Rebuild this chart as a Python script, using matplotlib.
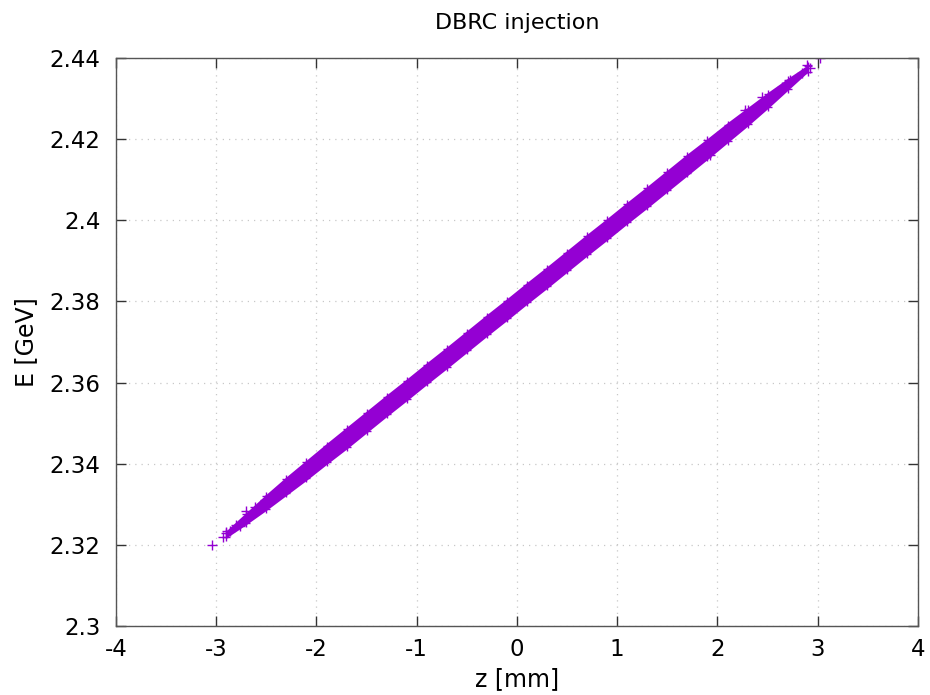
import numpy as np
import matplotlib
matplotlib.use('Agg')
import matplotlib.pyplot as plt

# band of the E(z) distribution
z_band = [-2.9, -2.7, -2.5, -2.3, -2.1, -1.9, -1.7, -1.5, -1.3, -1.1, -0.9, -0.7, -0.5, -0.3, -0.1,
          0.1, 0.3, 0.5, 0.7, 0.9, 1.1, 1.3, 1.5, 1.7, 1.9, 2.1, 2.3, 2.5, 2.7, 2.9]
E_mid = [2.3226, 2.3265, 2.3305, 2.3345, 2.3384, 2.3424, 2.3463, 2.3503, 2.3543, 2.3582,
         2.3622, 2.3661, 2.3701, 2.3741, 2.3780, 2.3820, 2.3859, 2.3899, 2.3939, 2.3978,
         2.4018, 2.4057, 2.4097, 2.4137, 2.4176, 2.4216, 2.4255, 2.4295, 2.4335, 2.4374]
E_halfwidth = [0.0009, 0.0015, 0.0020, 0.0023, 0.0025, 0.0026, 0.0027, 0.0027, 0.0027, 0.0027,
               0.0027, 0.0027, 0.0027, 0.0027, 0.0027, 0.0027, 0.0027, 0.0027, 0.0027, 0.0027,
               0.0027, 0.0027, 0.0027, 0.0027, 0.0026, 0.0025, 0.0023, 0.0020, 0.0015, 0.0009]

# isolated particles at the tails
z_tail = [-3.04, -2.935, -2.90, -2.86, -2.80, -2.76, -2.70, -2.61, -2.51, -2.45,
          3.02, 2.89, 2.92, 2.84, 2.72, 2.64, 2.44, 2.47, 2.27, 1.93]
E_tail = [2.3200, 2.3219, 2.3229, 2.3235, 2.3249, 2.3246, 2.3284, 2.3294, 2.3311, 2.3315,
          2.4400, 2.4383, 2.4375, 2.4362, 2.4346, 2.4329, 2.4305, 2.4293, 2.4272, 2.4161]

xticks = [-4, -3, -2, -1, 0, 1, 2, 3, 4]
yticks = [2.3, 2.32, 2.34, 2.36, 2.38, 2.4, 2.42, 2.44]
ytick_labels = ['2.3', '2.32', '2.34', '2.36', '2.38', '2.4', '2.42', '2.44']

col = '#9400d3'
zb = np.array(z_band)
mid = np.array(E_mid)
hw = np.array(E_halfwidth)

fig = plt.figure(figsize=(9.3, 6.95), dpi=100)
ax = fig.add_axes([0.1247, 0.0993, 0.8624, 0.8172])

ax.fill_between(zb, mid - hw, mid + hw, color=col, lw=0)
ax.plot(zb, mid + 0.8 * hw, '+', color=col, ms=6, mew=1)
ax.plot(zb, mid - 0.8 * hw, '+', color=col, ms=6, mew=1)
ax.plot(z_tail, E_tail, '+', color=col, ms=7, mew=1)

ax.set_xlim(-4, 4)
ax.set_ylim(2.3, 2.44)
ax.set_xticks(xticks)
ax.set_xticklabels([str(t) for t in xticks])
ax.set_yticks(yticks)
ax.set_yticklabels(ytick_labels)
ax.grid(True, color='#c8c8c8', linestyle=(0, (1, 4)), linewidth=0.9)
ax.set_axisbelow(True)

ax.tick_params(direction='in', length=7, width=1, top=True, right=True,
               labelsize=16.5, color='#333333')
ax.tick_params(axis='y', pad=11)
ax.tick_params(axis='x', pad=9)
for s in ax.spines.values():
    s.set_color('#555555')
    s.set_linewidth(1)

ax.set_title('DBRC injection', fontsize=16, pad=21)
ax.set_xlabel('z [mm]', fontsize=17, labelpad=4)
ax.set_ylabel('E [GeV]', fontsize=17, labelpad=8)

fig.savefig('out.png', dpi=100)
